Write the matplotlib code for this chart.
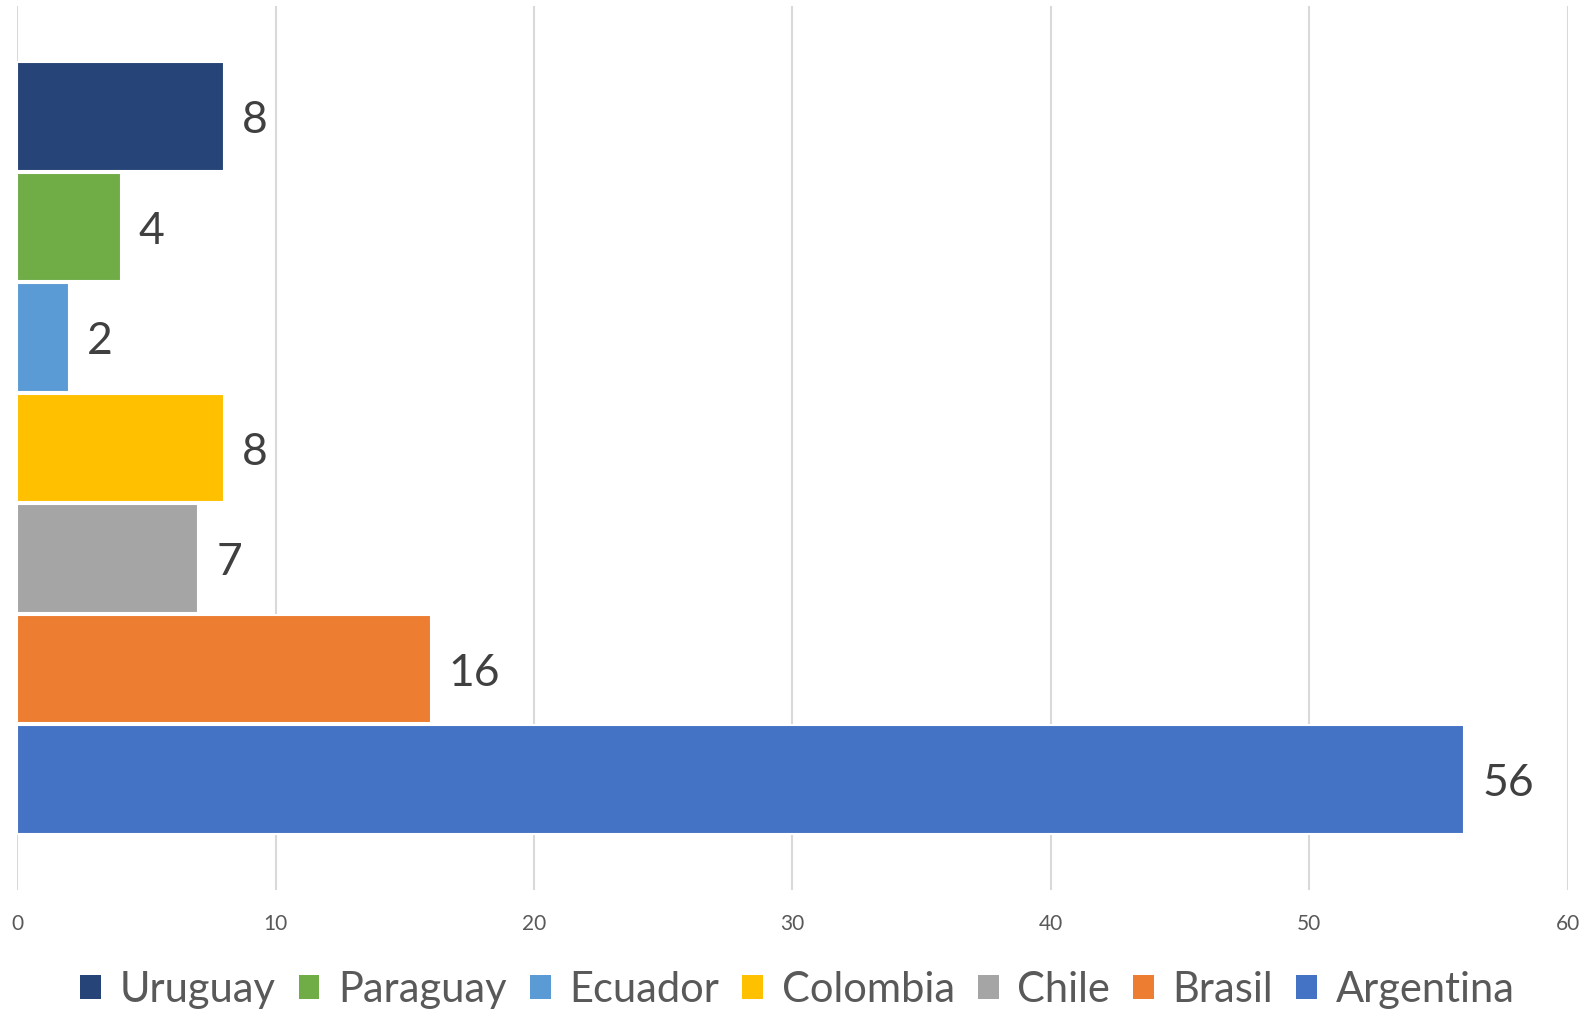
import matplotlib.pyplot as plt
from matplotlib.patches import Patch

countries = ["Uruguay", "Paraguay", "Ecuador", "Colombia", "Chile", "Brasil", "Argentina"]
values = [8, 4, 2, 8, 7, 16, 56]
colors = ["#264478", "#70AD47", "#5B9BD5", "#FFC000", "#A5A5A5", "#ED7D31", "#4472C4"]

plt.rcParams['font.family'] = ['Lato', 'DejaVu Sans']

fig = plt.figure(figsize=(15.95, 10.13), dpi=100)
ax = fig.add_axes([0.01085, 0.1214, 0.972, 0.8727])

n = len(countries)
for i, (name, val, col) in enumerate(zip(countries, values, colors)):
    ypos = n - 1 - i
    ax.barh(ypos, val, height=0.98, color=col, edgecolor="white",
            linewidth=1.5, label=name, zorder=3)
    # value label to the right of the bar
    ax.annotate(str(val), xy=(val, ypos), xytext=(13, -3),
                textcoords="offset points", va="center", ha="left",
                fontsize=32, color="#404040")

ax.set_xlim(0, 60)
ax.set_ylim(-1, 7)
ax.set_xticks(range(0, 61, 10))
ax.set_yticks([])
ax.grid(axis="x", color="#D9D9D9", linewidth=1.5, zorder=0)
for s in ax.spines.values():
    s.set_visible(False)
ax.tick_params(axis="x", length=0, pad=17, labelsize=15, labelcolor="#595959")

handles = [Patch(facecolor=c, label=l) for c, l in zip(colors, countries)]
fig.legend(handles=handles, loc="center", bbox_to_anchor=(0.5, 1 - 990 / 1013),
           ncol=n, frameon=False, fontsize=30, labelcolor="#595959",
           handlelength=0.5, handleheight=0.5, handletextpad=0.45,
           columnspacing=0.55, borderaxespad=0)

fig.savefig("out.png", dpi=100)
